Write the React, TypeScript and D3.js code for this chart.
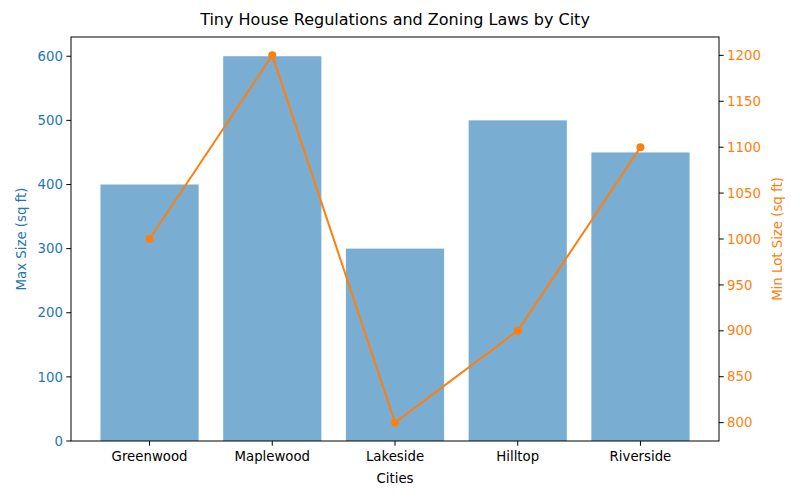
import React from "react";
import * as d3 from "d3";

const cities = ["Greenwood", "Maplewood", "Lakeside", "Hilltop", "Riverside"];
const maxSize = [400, 600, 300, 500, 450];
const minLot = [1000, 1200, 800, 900, 1100];
const leftTicks = [0, 100, 200, 300, 400, 500, 600];
const rightTicks = [800, 850, 900, 950, 1000, 1050, 1100, 1150, 1200];

const W = 800;
const H = 500;
const margin = { top: 37, right: 81, bottom: 59, left: 71 };
const blue = "#1f77b4";
const orange = "#ff7f0e";
const font = "DejaVu Sans, sans-serif";

const App = () => {
  const innerW = W - margin.left - margin.right;
  const innerH = H - margin.top - margin.bottom;

  const x = d3.scaleLinear().domain([-0.64, 4.64]).range([0, innerW]);
  const yLeft = d3.scaleLinear().domain([0, 630]).range([innerH, 0]);
  const yRight = d3.scaleLinear().domain([780, 1220]).range([innerH, 0]);

  const line = d3
    .line<number>()
    .x((_, i) => x(i))
    .y(d => yRight(d));

  return (
    <svg
      width={W}
      height={H}
      style={{ position: "absolute", left: 0, top: 0, background: "#fff" }}
      fontFamily={font}
    >
      <text x={W / 2 - 5} y={25} textAnchor="middle" fontSize={16} fill="#000">
        Tiny House Regulations and Zoning Laws by City
      </text>
      <g transform={`translate(${margin.left},${margin.top})`}>
        {maxSize.map((v, i) => (
          <rect
            key={cities[i]}
            x={x(i - 0.4)}
            y={yLeft(v)}
            width={x(0.4) - x(-0.4)}
            height={innerH - yLeft(v)}
            fill={blue}
            fillOpacity={0.6}
          />
        ))}
        <path d={line(minLot) || ""} fill="none" stroke={orange} strokeWidth={2} />
        {minLot.map((v, i) => (
          <circle key={i} cx={x(i)} cy={yRight(v)} r={4} fill={orange} />
        ))}

        <rect x={0} y={0} width={innerW} height={innerH} fill="none" stroke="#000" strokeWidth={1} />

        {/* bottom axis */}
        {cities.map((c, i) => (
          <g key={c} transform={`translate(${x(i)},${innerH})`}>
            <line y2={4.7} stroke="#000" />
            <text y={20} textAnchor="middle" fontSize={13.3} fill="#000">
              {c}
            </text>
          </g>
        ))}
        <text x={innerW / 2} y={innerH + 42} textAnchor="middle" fontSize={13.3} fill="#000">
          Cities
        </text>

        {/* left axis */}
        {leftTicks.map(t => (
          <g key={t} transform={`translate(0,${yLeft(t)})`}>
            <line x2={-4.7} stroke="#000" />
            <text x={-8} dy="0.35em" textAnchor="end" fontSize={13.3} fill={blue}>
              {t}
            </text>
          </g>
        ))}
        <text
          transform={`translate(${-45.5},${innerH / 2}) rotate(-90)`}
          textAnchor="middle"
          fontSize={13.3}
          fill={blue}
        >
          Max Size (sq ft)
        </text>

        {/* right axis */}
        {rightTicks.map(t => (
          <g key={t} transform={`translate(${innerW},${yRight(t)})`}>
            <line x2={4.7} stroke="#000" />
            <text x={8} dy="0.35em" textAnchor="start" fontSize={13.3} fill={orange}>
              {t}
            </text>
          </g>
        ))}
        <text
          transform={`translate(${innerW + 63},${innerH / 2}) rotate(-90)`}
          textAnchor="middle"
          fontSize={13.3}
          fill={orange}
        >
          Min Lot Size (sq ft)
        </text>
      </g>
    </svg>
  );
};

export default App;
